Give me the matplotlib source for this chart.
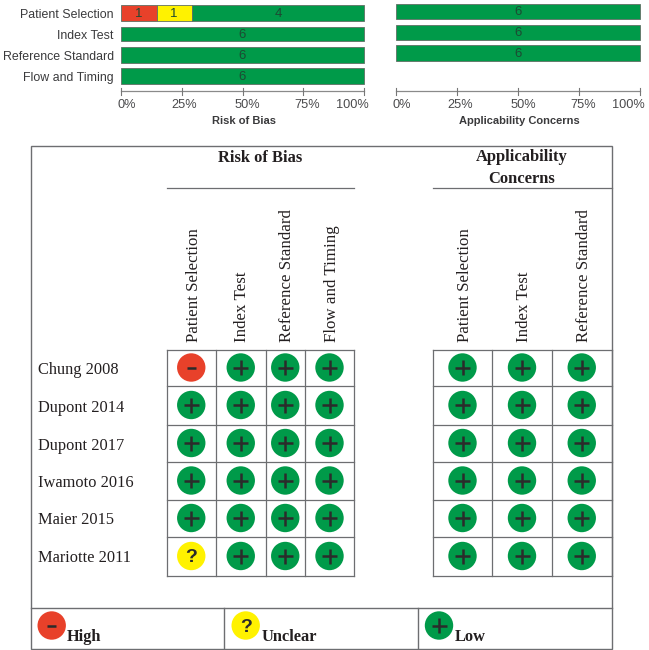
import matplotlib

matplotlib.use("Agg")
import matplotlib.pyplot as plt
from matplotlib.patches import Circle, Rectangle

W, H = 649, 650

domains = ["Patient Selection", "Index Test", "Reference Standard", "Flow and Timing"]
# printed study counts, and the bar shares as they are actually drawn in the picture
rob_high = [1, 0, 0, 0]
rob_unclear = [1, 0, 0, 0]
rob_low = [4, 6, 6, 6]
rob_high_pct = [14.7, 0, 0, 0]
rob_unclear_pct = [14.5, 0, 0, 0]
rob_low_pct = [70.8, 100, 100, 100]
app_low = [6, 6, 6]
app_low_pct = [100, 100, 100]
pct_ticks = [0, 25, 50, 75, 100]

studies = ["Chung 2008", "Dupont 2014", "Dupont 2017", "Iwamoto 2016", "Maier 2015", "Mariotte 2011"]
rob_marks = [
    ["-", "+", "+", "+"],
    ["+", "+", "+", "+"],
    ["+", "+", "+", "+"],
    ["+", "+", "+", "+"],
    ["+", "+", "+", "+"],
    ["?", "+", "+", "+"],
]
app_marks = [["+", "+", "+"] for _ in studies]

RED = "#e8412a"
YELLOW = "#fff200"
GREEN = "#009a49"
LINE = "#6d6e71"
INK = "#231f20"
SERIF = ["Liberation Serif", "DejaVu Serif"]
SANS = ["Liberation Sans", "DejaVu Sans"]

fig = plt.figure(figsize=(W / 100, H / 100), dpi=100)
# whole-figure axes in pixel coordinates, y going down
ax = fig.add_axes([0, 0, 1, 1])
ax.set_xlim(0, W)
ax.set_ylim(H, 0)
ax.axis("off")

# the source nudges its % labels off the ticks, the last one well to the left
tick_nudge = [6, 3, 5, 4, -11.5]


def bar_panel(left, right, tops, bottoms, rows, title, labels=None):
    span = right - left
    for i, (top, bottom) in enumerate(zip(tops, bottoms)):
        pos = 0
        for pct, count, color in rows[i]:
            if pct == 0:
                continue
            x0 = left + span * pos / 100
            w = span * pct / 100
            ax.add_patch(Rectangle((x0, top), w, bottom - top, fc=color, ec="#5f6f64", lw=0.6))
            ax.text(x0 + w / 2, (top + bottom) / 2 + 1.2, str(count), ha="center", va="center",
                    fontsize=9.5, color="#1d4a33", family=SANS)
            pos += pct
        if labels:
            ax.text(left - 7, (top + bottom) / 2 + 2, labels[i], ha="right", va="center",
                    fontsize=8.9, color="#3a3a3c", family=SANS)
    ax.plot([left, right], [91, 91], color="#8a8a8a", lw=0.9)
    for t, nudge in zip(pct_ticks, tick_nudge):
        x = left + span * t / 100
        ax.plot([x, x], [88, 94.5], color="#777777", lw=0.8)
        ax.text(x + nudge, 105, f"{t}%", ha="center", va="center", fontsize=9.2, color="#4a4a4c", family=SANS)
    ax.text(left + span * 0.5 + 1, 121, title, ha="center", va="center", fontsize=8,
            fontweight="bold", color="#3a3a3c", family=SANS)


def mark(x, y, kind, r=14.2):
    color = {"-": RED, "?": YELLOW, "+": GREEN}[kind]
    ax.add_patch(Circle((x, y), r, fc=color, ec="none", zorder=3))
    if kind == "+":
        ax.plot([x - 7.5, x + 7.5], [y, y], color="#2b2b2b", lw=1.8, zorder=4, solid_capstyle="butt")
        ax.plot([x, x], [y - 7.5, y + 7.5], color="#2b2b2b", lw=1.8, zorder=4, solid_capstyle="butt")
    elif kind == "-":
        ax.plot([x - 4.5, x + 4.5], [y, y], color="#2b2b2b", lw=1.8, zorder=4, solid_capstyle="butt")
    else:
        ax.text(x, y + 1.5, "?", ha="center", va="center", fontsize=14, fontweight="bold",
                color="#2b2b2b", family=SANS, zorder=4)


def grid(xs, ys, marks):
    for x in xs:
        ax.plot([x, x], [ys[0], ys[-1]], color=LINE, lw=0.9, zorder=2)
    for y in ys:
        ax.plot([xs[0], xs[-1]], [y, y], color=LINE, lw=0.9, zorder=2)
    for r, row in enumerate(marks):
        for c, kind in enumerate(row):
            mark((xs[c] + xs[c + 1]) / 2, (ys[r] + ys[r + 1]) / 2 - 0.5, kind)


rows = [
    [(rob_high_pct[i], rob_high[i], RED), (rob_unclear_pct[i], rob_unclear[i], YELLOW), (rob_low_pct[i], rob_low[i], GREEN)]
    for i in range(len(domains))
]
bar_panel(120.7, 364.3, [5, 26.5, 47, 68], [21, 41, 62.5, 84], rows, "Risk of Bias", domains)
bar_panel(396, 640, [3.5, 24.5, 45], [19, 40, 61],
          [[(p, v, GREEN)] for p, v in zip(app_low_pct, app_low)], "Applicability Concerns")

# outer frame and legend strip
ax.add_patch(Rectangle((30.5, 145.5), 581.5, 503, fc="none", ec=LINE, lw=1.0))
ax.plot([30.5, 612], [608, 608], color=LINE, lw=1.0)
for x in [223.5, 417.5]:
    ax.plot([x, x], [608, 648.5], color=LINE, lw=1.0)

ax.plot([166.5, 354], [187.5, 187.5], color=LINE, lw=0.9)
ax.plot([433, 612], [187.5, 187.5], color=LINE, lw=0.9)
ax.text(260, 158, "Risk of Bias", ha="center", va="center", fontsize=11.9, fontweight="bold",
        color=INK, family=SERIF)
ax.text(522, 168, "Applicability\nConcerns", ha="center", va="center", fontsize=11.9, fontweight="bold",
        color=INK, family=SERIF, linespacing=1.5)

rob_xs = [166.5, 216, 265.5, 305, 354]
app_xs = [433, 492, 552, 611.5]
row_ys = [350, 386, 425, 462, 500, 537, 576]

for x, label in zip([193.5, 242, 287, 332], domains):
    ax.text(x, 342, label, rotation=90, ha="center", va="bottom", fontsize=12.2, color=INK, family=SERIF)
for x, label in zip([465, 524.5, 583.5], domains):
    ax.text(x, 342, label, rotation=90, ha="center", va="bottom", fontsize=12.2, color=INK, family=SERIF)

for i, study in enumerate(studies):
    ax.text(38, (row_ys[i] + row_ys[i + 1]) / 2 + 2, study, ha="left", va="center", fontsize=11.8,
            color=INK, family=SERIF)

grid(rob_xs, row_ys, rob_marks)
grid(app_xs, row_ys, app_marks)

for x, kind, label in [(51.7, "-", "High"), (245.7, "?", "Unclear"), (439, "+", "Low")]:
    mark(x, 625.5, kind)
    ax.text(x + 15.5, 637, label, ha="left", va="center", fontsize=11.8, fontweight="bold",
            color=INK, family=SERIF)

fig.savefig("out.png", dpi=100)
plt.close(fig)
